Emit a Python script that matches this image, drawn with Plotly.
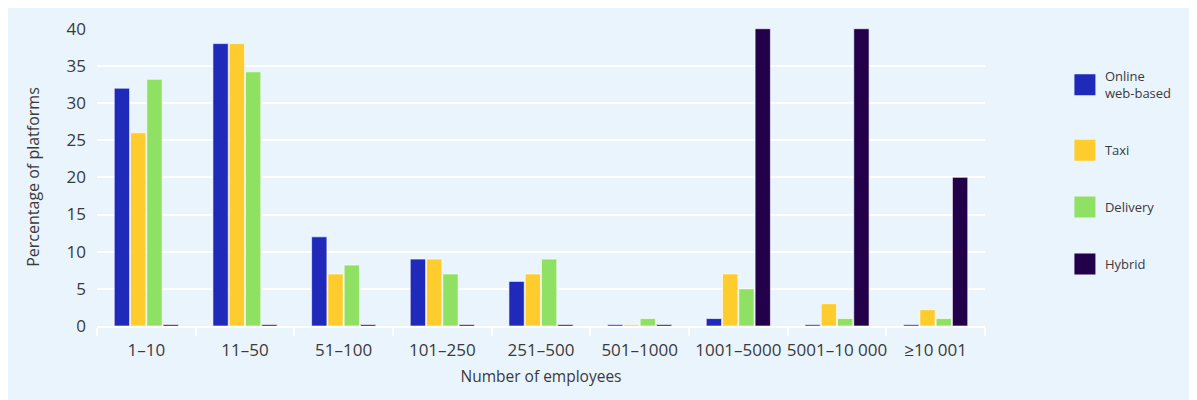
#platform size by number of employees, grouped bars

#%%
import plotly.graph_objects as go

#%%
#data

categories = ["1–10", "11–50", "51–100", "101–250", "251–500",
              "501–1000", "1001–5000", "5001–10 000", "≥10 001"]

online = [32, 38, 12, 9, 6, 0.2, 1, 0.2, 0.2]
taxi = [26, 38, 7, 9, 7, 0.2, 7, 3, 2.2]
delivery = [33.2, 34.2, 8.2, 7, 9, 1, 5, 1, 1]
hybrid = [0.2, 0.2, 0.2, 0.2, 0.2, 0.2, 40, 40, 20]

series_names = ["Online<br>web-based", "Taxi", "Delivery", "Hybrid"]
series_values = [online, taxi, delivery, hybrid]
colors = ["#1f2abb", "#ffcc2e", "#8fe164", "#23004a"]

y_ticks = [0, 5, 10, 15, 20, 25, 30, 35, 40]

#%%
bg = "#eaf4fd"
txt = "#3a3a3a"

fig = go.Figure()

for i, (name, vals) in enumerate(zip(series_names, series_values)):
    fig.add_trace(go.Bar(
        x=categories, y=vals, name=name,
        marker=dict(color=colors[i], line=dict(color="rgba(255,255,255,0.6)", width=1)),
        showlegend=False,
    ))
    #legend entry with a bigger square
    fig.add_trace(go.Scatter(
        x=[None], y=[None], mode="markers", name=name,
        legendgroup=str(i),
        marker=dict(symbol="square", size=16, color=colors[i],
                    line=dict(color=colors[i], width=5)),
    ))

fig.update_layout(
    width=1182, height=400,
    barmode="group",
    bargap=0.34,
    bargroupgap=0.06,
    paper_bgcolor=bg,
    plot_bgcolor=bg,
    font=dict(family="Open Sans", size=15, color=txt),
    margin=dict(l=89, r=205, t=20, b=82),
    legend=dict(
        x=1.09, y=0.888, xanchor="left", yanchor="top",
        font=dict(size=13, color=txt),
        tracegroupgap=37,
        itemsizing="trace",
        bgcolor="rgba(0,0,0,0)",
    ),
)

fig.update_xaxes(
    title=dict(text="Number of employees", standoff=11, font=dict(size=15.5)),
    tickfont=dict(size=17),
    tickangle=0,
    tickson="boundaries",
    ticks="outside", ticklen=8, tickcolor="white", tickwidth=1.5,
    ticklabelstandoff=8,
    showline=True, linecolor="white", linewidth=1.5,
    showgrid=False,
    automargin=False,
)

fig.update_yaxes(
    title=dict(text="Percentage of platforms", standoff=22, font=dict(size=16)),
    tickfont=dict(size=17),
    range=[0, 40.1],
    tickvals=y_ticks,
    showgrid=True, gridcolor="white", gridwidth=1.5,
    zeroline=False,
    ticks="", ticklabelstandoff=10,
    automargin=False,
)

fig.write_html("out.html")
